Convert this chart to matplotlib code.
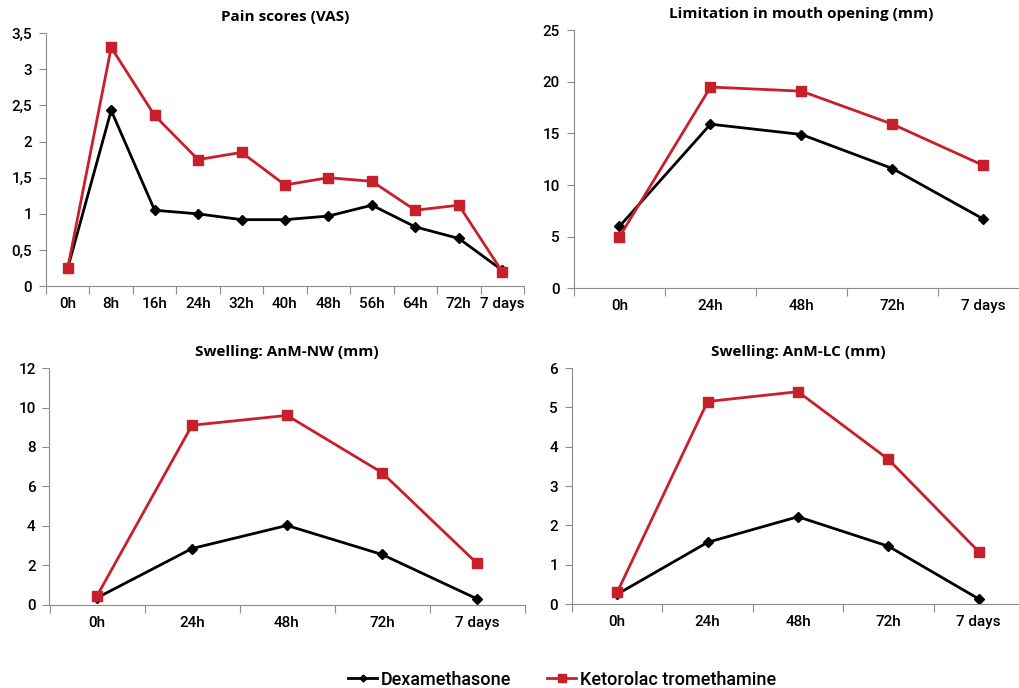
import matplotlib
matplotlib.use("Agg")
import matplotlib.pyplot as plt
from matplotlib.ticker import FuncFormatter

# data
pain_labels = ['0h', '8h', '16h', '24h', '32h', '40h', '48h', '56h', '64h', '72h', '7 days']
pain_dex = [0.25, 2.43, 1.05, 1.0, 0.92, 0.92, 0.97, 1.12, 0.82, 0.66, 0.22]
pain_ket = [0.25, 3.3, 2.36, 1.75, 1.85, 1.4, 1.5, 1.45, 1.05, 1.12, 0.2]

day_labels = ['0h', '24h', '48h', '72h', '7 days']
mouth_dex = [6.0, 15.9, 14.9, 11.6, 6.7]
mouth_ket = [5.0, 19.5, 19.1, 15.9, 11.9]
nw_dex = [0.35, 2.85, 4.02, 2.55, 0.3]
nw_ket = [0.45, 9.1, 9.6, 6.7, 2.1]
lc_dex = [0.25, 1.57, 2.22, 1.47, 0.13]
lc_ket = [0.3, 5.15, 5.4, 3.68, 1.33]

RED = '#C8202A'
GREY = '#8c8c8c'
plt.rcParams['font.family'] = ['Roboto', 'DejaVu Sans']

fig = plt.figure(figsize=(10.2, 6.88), dpi=100)

def panel(rect, title, labels, dex, ket, ymax, ystep, comma=False):
    ax = fig.add_axes(rect)
    x = list(range(len(labels)))
    ax.plot(x, dex, color='black', lw=2, marker='D', ms=5, label='Dexamethasone')
    ax.plot(x, ket, color=RED, lw=2, marker='s', ms=7.5, label='Ketorolac tromethamine')
    ax.set_xlim(-0.5, len(labels) - 0.5)
    ax.set_ylim(0, ymax)
    ax.set_yticks([i * ystep for i in range(int(round(ymax / ystep)) + 1)])
    if comma:
        ax.yaxis.set_major_formatter(FuncFormatter(lambda v, p: ('%g' % v).replace('.', ',')))
    for t in ax.get_yticklabels():
        t.set_fontweight('medium')
    ax.set_xticks([i + 0.5 for i in range(-1, len(labels))])
    ax.set_xticklabels([])
    ax.set_xticks(x, minor=True)
    ax.set_xticklabels(labels, minor=True, fontsize=11, fontweight='medium')
    ax.tick_params(axis='x', which='minor', length=0, pad=8)
    ax.tick_params(axis='x', which='major', length=6, color=GREY, direction='out')
    ax.tick_params(axis='y', length=5, color=GREY, labelsize=11, pad=5)
    for s in ['top', 'right']:
        ax.spines[s].set_visible(False)
    for s in ['left', 'bottom']:
        ax.spines[s].set_color(GREY)
    ax.set_title(title, fontsize=11, fontweight='bold', family=['Open Sans', 'DejaVu Sans'], pad=9)
    return ax

ax1 = panel([46 / 1020, 0.584, 478 / 1020, 0.368], 'Pain scores (VAS)', pain_labels, pain_dex, pain_ket, 3.5, 0.5, comma=True)
panel([574 / 1020, 0.581, 455 / 1020, 0.375], 'Limitation in mouth opening (mm)', day_labels, mouth_dex, mouth_ket, 25, 5)
panel([49.5 / 1020, 0.121, 475 / 1020, 0.344], 'Swelling: AnM-NW (mm)', day_labels, nw_dex, nw_ket, 12, 2)
panel([572 / 1020, 0.122, 452 / 1020, 0.343], 'Swelling: AnM-LC (mm)', day_labels, lc_dex, lc_ket, 6, 1)

h, l = ax1.get_legend_handles_labels()
leg = fig.legend(h, l, loc='center', bbox_to_anchor=(0.551, 0.012), ncol=2, frameon=False,
                 fontsize=13, handlelength=1.6, handletextpad=0.2, columnspacing=2.0, markerscale=0.7)
for t in leg.get_texts():
    t.set_fontweight('medium')

fig.savefig('out.png', dpi=100)
